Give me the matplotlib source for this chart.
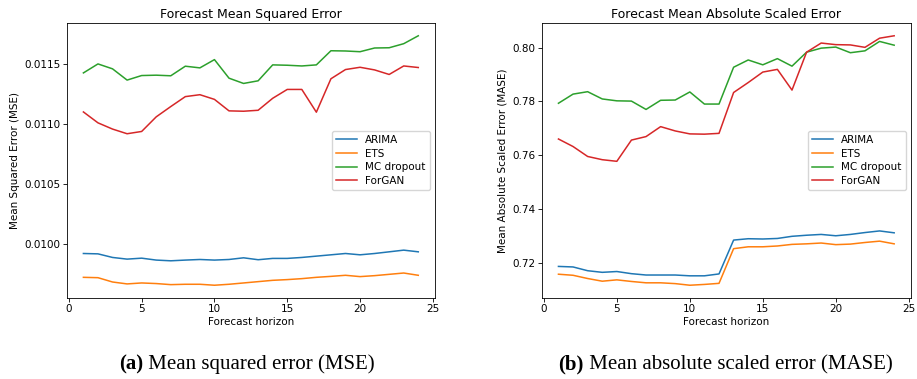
import matplotlib.pyplot as plt
import numpy as np

horizon = np.arange(1, 25)
methods = ['ARIMA', 'ETS', 'MC dropout', 'ForGAN']
colors = ['#1f77b4', '#ff7f0e', '#2ca02c', '#d62728']

# MSE per forecast horizon
mse_arima = [0.009917, 0.009914, 0.009884, 0.009870, 0.009878, 0.009862, 0.009856, 0.009862,
             0.009867, 0.009862, 0.009867, 0.009881, 0.009865, 0.009876, 0.009876, 0.009884,
             0.009895, 0.009906, 0.009917, 0.009906, 0.009917, 0.009931, 0.009945, 0.009931]
mse_ets = [0.009718, 0.009715, 0.009679, 0.009663, 0.009671, 0.009666, 0.009657, 0.009660,
           0.009660, 0.009652, 0.009660, 0.009671, 0.009682, 0.009693, 0.009699, 0.009707,
           0.009718, 0.009726, 0.009735, 0.009724, 0.009732, 0.009743, 0.009754, 0.009735]
mse_mc = [0.011425, 0.011500, 0.011459, 0.011365, 0.011403, 0.011406, 0.011401, 0.011481,
          0.011467, 0.011536, 0.011381, 0.011337, 0.011359, 0.011492, 0.011489, 0.011483,
          0.011492, 0.011610, 0.011608, 0.011602, 0.011633, 0.011635, 0.011669, 0.011735]
mse_forgan = [0.011099, 0.011008, 0.010956, 0.010917, 0.010936, 0.011058, 0.011144, 0.011227,
              0.011243, 0.011204, 0.011108, 0.011105, 0.011113, 0.011213, 0.011287, 0.011287,
              0.011097, 0.011376, 0.011453, 0.011472, 0.011450, 0.011412, 0.011483, 0.011470]

# MASE per forecast horizon
mase_arima = [0.7186, 0.7184, 0.7170, 0.7164, 0.7167, 0.7159, 0.7154, 0.7154, 0.7154, 0.7151,
              0.7151, 0.7158, 0.7284, 0.7289, 0.7288, 0.7290, 0.7298, 0.7302, 0.7305, 0.7300,
              0.7305, 0.7312, 0.7318, 0.7311]
mase_ets = [0.7157, 0.7153, 0.7141, 0.7131, 0.7136, 0.7130, 0.7125, 0.7125, 0.7122, 0.7116,
            0.7119, 0.7123, 0.7252, 0.7259, 0.7259, 0.7262, 0.7268, 0.7270, 0.7273, 0.7267,
            0.7269, 0.7275, 0.7280, 0.7270]
mase_mc = [0.7793, 0.7827, 0.7836, 0.7809, 0.7802, 0.7801, 0.7770, 0.7804, 0.7805, 0.7835,
           0.7790, 0.7790, 0.7927, 0.7954, 0.7936, 0.7959, 0.7931, 0.7983, 0.7998, 0.8002,
           0.7981, 0.7988, 0.8023, 0.8009]
mase_forgan = [0.7660, 0.7632, 0.7595, 0.7583, 0.7577, 0.7656, 0.7669, 0.7706, 0.7690, 0.7679,
               0.7678, 0.7681, 0.7833, 0.7870, 0.7909, 0.7919, 0.7842, 0.7983, 0.8017, 0.8011,
               0.8010, 0.8001, 0.8035, 0.8044]

fig = plt.figure(figsize=(9.17, 3.79), dpi=100)
ax1 = fig.add_axes([0.0727, 0.2145, 0.4017, 0.724])
ax2 = fig.add_axes([0.5907, 0.2145, 0.4027, 0.724])

fs = 7.5
panels = [
    (ax1, [mse_arima, mse_ets, mse_mc, mse_forgan], 'Forecast Mean Squared Error',
     'Mean Squared Error (MSE)'),
    (ax2, [mase_arima, mase_ets, mase_mc, mase_forgan], 'Forecast Mean Absolute Scaled Error',
     'Mean Absolute Scaled Error (MASE)'),
]
for ax, series, title, ylabel in panels:
    for vals, name, c in zip(series, methods, colors):
        ax.plot(horizon, vals, color=c, lw=1.1, label=name)
    ax.set_title(title, fontsize=9, pad=4)
    ax.set_xlabel('Forecast horizon', fontsize=fs, labelpad=2)
    ax.set_ylabel(ylabel, fontsize=fs, labelpad=3)
    ax.set_xticks([0, 5, 10, 15, 20, 25])
    ax.tick_params(labelsize=fs, length=2.6, width=0.6, pad=2)
    for s in ax.spines.values():
        s.set_linewidth(0.6)
    ax.legend(loc='center right', fontsize=fs, handlelength=2.0, borderpad=0.4,
              labelspacing=0.35, framealpha=0.8)

ax1.set_yticks([0.0100, 0.0105, 0.0110, 0.0115])
ax1.yaxis.set_major_formatter(plt.FormatStrFormatter('%.4f'))
ax2.set_yticks([0.72, 0.74, 0.76, 0.78, 0.80])
ax2.yaxis.set_major_formatter(plt.FormatStrFormatter('%.2f'))

# sub-figure captions: bold tag followed by plain text, centred under each panel
serif = ['Liberation Serif', 'DejaVu Serif']
cap_fs = 15
cap_y = 1 - 369 / 379
for xc, tag, text in [(0.2685, '(a)', ' Mean squared error (MSE)'),
                      (0.7905, '(b)', ' Mean absolute scaled error (MASE)')]:
    t = fig.text(xc, cap_y, tag + text, fontsize=cap_fs, family=serif, ha='center',
                 va='baseline', alpha=0)
    fig.canvas.draw()
    x0 = t.get_window_extent().x0 / fig.bbox.width
    tb = fig.text(x0, cap_y, tag, fontsize=cap_fs, family=serif, weight='bold', va='baseline')
    fig.canvas.draw()
    x1 = tb.get_window_extent().x1 / fig.bbox.width
    fig.text(x1, cap_y, text, fontsize=cap_fs, family=serif, va='baseline')
    t.remove()

fig.savefig('out.png', dpi=100)
